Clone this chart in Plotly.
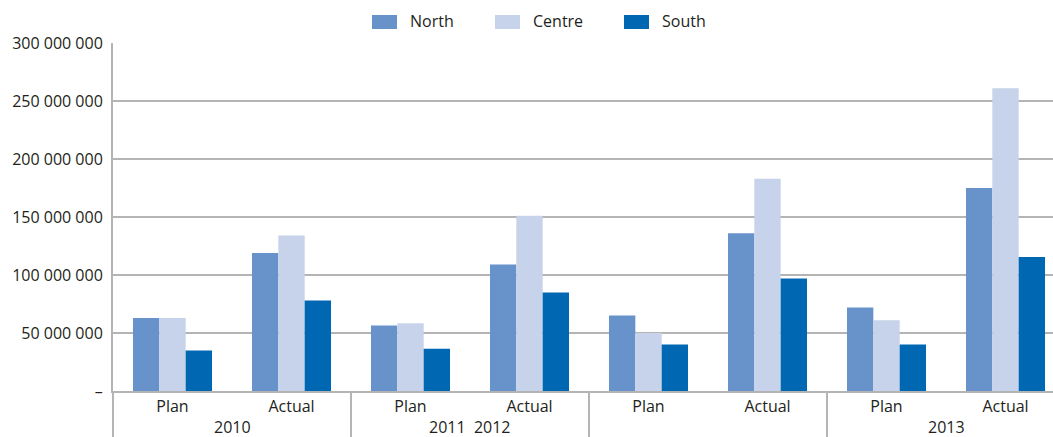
import plotly.graph_objects as go

# Category layout: two bars per year block, three regions per bar group
periods = ["Plan", "Actual", "Plan", "Actual", "Plan", "Actual", "Plan", "Actual"]
year_labels = ["2010", "2011  2012", "", "2013"]
regions = ["North", "Centre", "South"]

north = [63_000_000, 119_000_000, 56_500_000, 109_000_000, 65_000_000, 136_000_000, 72_000_000, 175_000_000]
centre = [63_000_000, 134_000_000, 58_300_000, 151_000_000, 50_000_000, 183_000_000, 61_000_000, 261_000_000]
south = [35_000_000, 78_000_000, 36_500_000, 85_000_000, 40_000_000, 97_000_000, 40_000_000, 115_500_000]

y_ticks = [0, 50_000_000, 100_000_000, 150_000_000, 200_000_000, 250_000_000, 300_000_000]
y_tick_text = ["–", "50 000 000", "100 000 000", "150 000 000", "200 000 000", "250 000 000", "300 000 000"]

colors = ["#6792ca", "#c6d3ea", "#0067b2"]
series = [north, centre, south]

FONT = "Open Sans"
TEXT = "#231f20"
LINE = "#b4b4b4"

W, H = 1053, 437
L, T, B = 113, 43, 46
plot_h = H - T - B
slot_px = 119

x_idx = list(range(len(periods)))

fig = go.Figure()
for name, vals, col in zip(regions, series, colors):
    fig.add_trace(go.Bar(x=x_idx, y=vals, name=name, marker=dict(color=col, line=dict(width=0)),
                         showlegend=False))

x_max = -0.5 + (W - L) / slot_px

fig.update_layout(
    width=W, height=H,
    margin=dict(l=L, r=0, t=T, b=B, pad=0),
    paper_bgcolor="white", plot_bgcolor="white",
    barmode="group", bargap=0.336, bargroupgap=0,
    font=dict(family=FONT, size=16, color=TEXT),
    xaxis=dict(range=[-0.5, x_max], tickvals=x_idx, ticktext=periods, showgrid=False,
               showline=True, linecolor=LINE, linewidth=2, ticks="", zeroline=False,
               ticklabelstandoff=0, tickfont=dict(family=FONT, size=16, color=TEXT)),
    yaxis=dict(range=[0, 300_000_000], tickvals=y_ticks, ticktext=y_tick_text,
               showgrid=True, gridcolor=LINE, gridwidth=2, zeroline=False,
               showline=True, linecolor=LINE, linewidth=2, ticks="",
               ticklabelstandoff=5, tickfont=dict(family=FONT, size=16, color=TEXT)),
)

shapes = []
below = -B / plot_h
# y-axis line continues down through the category label rows
shapes.append(dict(type="line", xref="paper", yref="paper", x0=0, x1=0, y0=0, y1=below,
                   line=dict(color=LINE, width=2)))
# dividers between year blocks
for k in range(1, len(year_labels)):
    xb = 2 * k - 0.5
    shapes.append(dict(type="line", xref="x", yref="paper", x0=xb, x1=xb, y0=0, y1=below,
                       line=dict(color=LINE, width=2)))

annotations = []
for k, lab in enumerate(year_labels):
    if lab:
        annotations.append(dict(x=2 * k + 0.5, xref="x", y=-36 / plot_h, yref="paper",
                                text=lab, showarrow=False, xanchor="center", yanchor="middle",
                                font=dict(family=FONT, size=16, color=TEXT)))

# legend row: colour swatches with region names
legend_x = [372, 495, 624]
for name, col, lx in zip(regions, colors, legend_x):
    shapes.append(dict(type="rect", xref="paper", yref="paper",
                       x0=(lx - L) / (W - L), x1=(lx + 25 - L) / (W - L),
                       y0=(H - B - 29) / plot_h, y1=(H - B - 15) / plot_h,
                       line=dict(width=0), fillcolor=col))
    annotations.append(dict(x=(lx + 36 - L) / (W - L), xref="paper",
                            y=(H - B - 21) / plot_h, yref="paper", text=name, showarrow=False,
                            xanchor="left", yanchor="middle",
                            font=dict(family=FONT, size=16, color=TEXT)))

fig.update_layout(shapes=shapes, annotations=annotations)

fig.write_html("out.html")
